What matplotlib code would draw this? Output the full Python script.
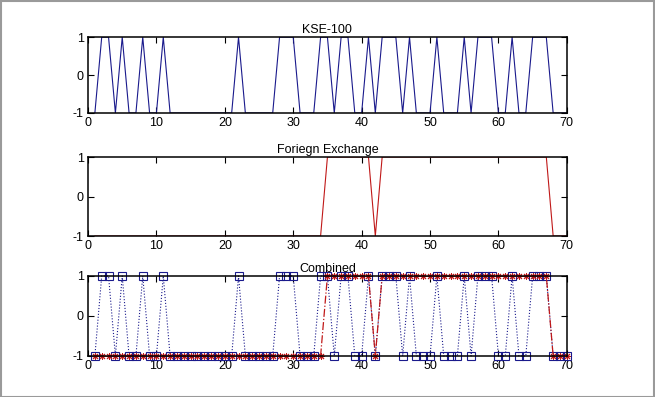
import numpy as np
import matplotlib.pyplot as plt
from matplotlib.patches import Rectangle

plt.rcParams['font.family'] = ['Liberation Sans', 'DejaVu Sans']
plt.rcParams['font.size'] = 9
plt.rcParams['axes.unicode_minus'] = False

# daily direction (+1 up / -1 down) over 70 trading days
days = np.arange(1, 71)
kse = [-1, 1, 1, -1, 1, -1, -1, 1, -1, -1,
       1, -1, -1, -1, -1, -1, -1, -1, -1, -1,
       -1, 1, -1, -1, -1, -1, -1, 1, 1, 1,
       -1, -1, -1, 1, 1, -1, 1, 1, -1, -1,
       1, -1, 1, 1, 1, -1, 1, -1, -1, -1,
       1, -1, -1, -1, 1, -1, 1, 1, 1, -1,
       -1, 1, -1, -1, 1, 1, 1, -1, -1, -1]
forex = [-1] * 34 + [1] * 7 + [-1] + [1] * 25 + [-1] * 3

blue = '#1a1a8c'
red = '#c01818'


def style(ax, title):
    ax.set_xlim(0, 70)
    ax.set_ylim(-1, 1)
    ax.set_xticks(range(0, 71, 10))
    ax.set_yticks([-1, 0, 1])
    ax.tick_params(direction='in', top=True, right=True, length=4, pad=3)
    ax.set_title(title, fontsize=9, pad=3)
    for sp in ax.spines.values():
        sp.set_zorder(5)
        sp.set_linewidth(1.1)


fig = plt.figure(figsize=(6.55, 3.97), dpi=100)
left, width = 0.1344, 0.731
ax1 = fig.add_axes([left, 0.7154, width, 0.191])
ax2 = fig.add_axes([left, 0.4055, width, 0.199])
ax3 = fig.add_axes([left, 0.1033, width, 0.2015])

ax1.plot(days, kse, color=blue, lw=0.8)
style(ax1, 'KSE-100')

ax2.plot(days, forex, color=red, lw=0.8)
style(ax2, 'Foriegn Exchange')

ax3.plot(days, kse, color=blue, ls=':', lw=0.8, marker='s', ms=6,
         mfc='none', mec=blue, mew=0.8, clip_on=False)
ax3.plot(days, forex, color=red, ls='-.', lw=0.9, marker=(8, 2, 0), ms=5,
         mec=red, mew=0.7, clip_on=False)
style(ax3, 'Combined')

# window frame
fig.patches.append(Rectangle((0.001, 0.001), 0.997, 0.997, transform=fig.transFigure,
                             fill=False, edgecolor='#9a9a9a', lw=1.5))

fig.savefig('out.png', dpi=100)
